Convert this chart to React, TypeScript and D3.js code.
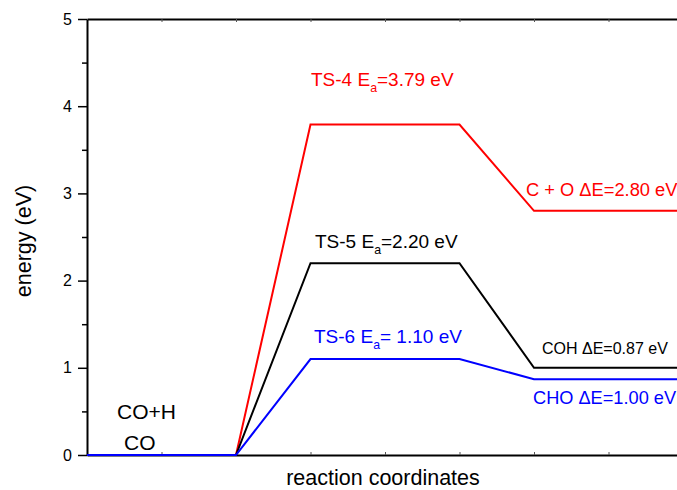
import { axisBottom, axisLeft, axisTop, line, range, scaleLinear, select } from 'd3';
import React, { useEffect, useRef } from 'react';

const WIDTH = 677;
const HEIGHT = 490;
const X0 = 87;
const UNIT = 74.5;
const Y_TOP = 19;
const Y_BOTTOM = 455;

// reaction step positions along the x axis (arbitrary units)
const steps = [0, 2, 3, 5, 6, 8];

const redEnergy = [0, 0, 3.79, 3.79, 2.8, 2.8];
const blackEnergy = [0, 0, 2.2, 2.2, 1.0, 1.0];
const blueEnergy = [0, 0, 1.1, 1.1, 0.87, 0.87];

const yTicks = [0, 1, 2, 3, 4, 5];
const yMinor = [0.5, 1.5, 2.5, 3.5, 4.5];

type Label = { pre: string; sub?: string; post?: string; x: number; y: number; size: number; color: string };

const labels: Label[] = [
  { pre: 'TS-4 E', sub: 'a', post: '=3.79 eV', x: 311, y: 86, size: 19, color: '#ff0000' },
  { pre: 'C + O \u0394E=2.80 eV', x: 526, y: 196, size: 18.3, color: '#ff0000' },
  { pre: 'TS-5 E', sub: 'a', post: '=2.20 eV', x: 315, y: 248, size: 19, color: '#000000' },
  { pre: 'TS-6 E', sub: 'a', post: '= 1.10 eV', x: 314, y: 343, size: 19, color: '#0000ff' },
  { pre: 'COH \u0394E=0.87 eV', x: 542, y: 354, size: 16, color: '#000000' },
  { pre: 'CHO \u0394E=1.00 eV', x: 533, y: 404, size: 18.2, color: '#0000ff' },
  { pre: 'CO+H', x: 117, y: 419, size: 21, color: '#000000' },
  { pre: 'CO', x: 124, y: 450, size: 21, color: '#000000' },
];

const App = (): JSX.Element => {
  const ref = useRef<SVGSVGElement>(null);

  useEffect(() => {
    if (ref.current === null) return;
    ref.current.replaceChildren();

    const x = scaleLinear().domain([0, 8]).range([X0, X0 + 8 * UNIT]);
    const y = scaleLinear().domain([0, 5]).range([Y_BOTTOM, Y_TOP]);

    const svg = select(ref.current).style('font-family', 'Arial, "Liberation Sans", sans-serif');

    const font = (g: any, size: number) => g.selectAll('text').attr('font-size', size).attr('fill', '#000');

    // y axis, major ticks outside with labels
    svg
      .append('g')
      .attr('transform', `translate(${X0},0)`)
      .call(axisLeft(y).tickValues(yTicks).tickFormat((d: any) => String(d)).tickSize(9).tickSizeOuter(0).tickPadding(6))
      .call((g) => g.select('.domain').attr('stroke-width', 2))
      .call((g) => g.selectAll('.tick line').attr('stroke-width', 1.5))
      .call((g) => font(g, 16));

    svg
      .append('g')
      .attr('transform', `translate(${X0},0)`)
      .call(axisLeft(y).tickValues(yMinor).tickFormat(() => '').tickSize(5).tickSizeOuter(0))
      .call((g) => g.select('.domain').remove())
      .call((g) => g.selectAll('.tick line').attr('stroke-width', 1.5));

    // bottom and top axes with small inward ticks, no labels
    svg
      .append('g')
      .attr('transform', `translate(0,${Y_BOTTOM})`)
      .call(axisBottom(x).tickValues(range(1, 8)).tickFormat(() => '').tickSize(-3).tickSizeOuter(0))
      .call((g) => g.select('.domain').attr('stroke-width', 2))
      .call((g) => g.selectAll('.tick line').attr('stroke-width', 1).attr('stroke', '#555'));

    svg
      .append('g')
      .attr('transform', `translate(0,${Y_TOP})`)
      .call(axisTop(x).tickValues(range(1, 8)).tickFormat(() => '').tickSize(-3).tickSizeOuter(0))
      .call((g) => g.select('.domain').attr('stroke-width', 2))
      .call((g) => g.selectAll('.tick line').attr('stroke-width', 1).attr('stroke', '#555'));

    // energy profiles
    const path = line<number>()
      .x((_, i) => x(steps[i]))
      .y((d) => y(d));

    const series: [number[], string][] = [
      [redEnergy, '#ff0000'],
      [blackEnergy, '#000000'],
      [blueEnergy, '#0000ff'],
    ];
    series.forEach(([values, color]) => {
      svg
        .append('path')
        .attr('d', path(values))
        .attr('fill', 'none')
        .attr('stroke', color)
        .attr('stroke-width', 2)
        .attr('stroke-linejoin', 'miter');
    });

    // annotations
    labels.forEach((l) => {
      const t = svg
        .append('text')
        .attr('x', l.x)
        .attr('y', l.y)
        .attr('font-size', l.size)
        .attr('fill', l.color);
      t.append('tspan').text(l.pre);
      if (l.sub) {
        t.append('tspan').attr('font-size', l.size * 0.65).attr('dy', l.size * 0.3).text(l.sub);
        t.append('tspan').attr('dy', -l.size * 0.3).text(l.post ?? '');
      }
    });

    // axis titles
    svg
      .append('text')
      .attr('x', 383)
      .attr('y', 485)
      .attr('text-anchor', 'middle')
      .attr('font-size', 21.5)
      .text('reaction coordinates');

    svg
      .append('text')
      .attr('transform', 'translate(31,241) rotate(-90)')
      .attr('text-anchor', 'middle')
      .attr('font-size', 21.5)
      .text('energy (eV)');
  }, []);

  return (
    <svg
      ref={ref}
      width={WIDTH}
      height={HEIGHT}
      style={{ position: 'absolute', left: 0, top: 0, background: '#fff' }}
    />
  );
};

export default App;
